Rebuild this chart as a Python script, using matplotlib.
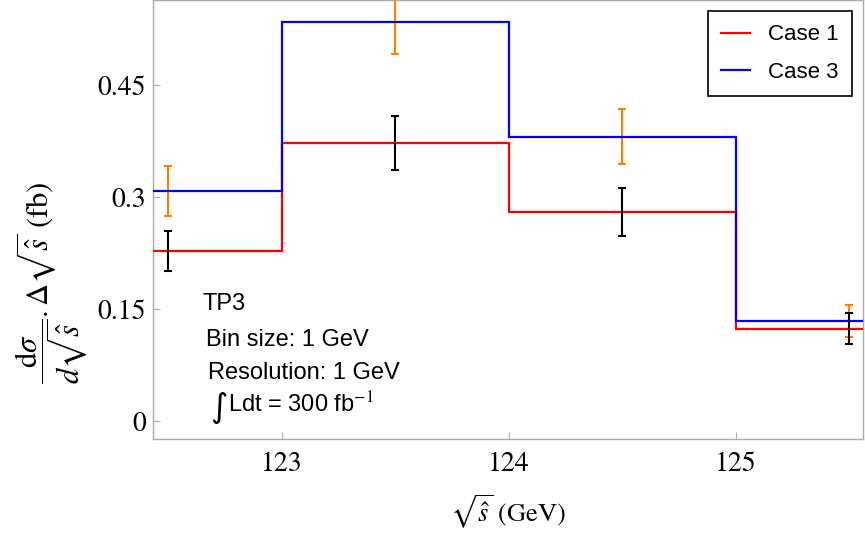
import matplotlib
matplotlib.use("Agg")
import matplotlib.pyplot as plt
import numpy as np

plt.rcParams['mathtext.fontset'] = 'stix'

bin_edges = [122, 123, 124, 125, 126]
bin_centers = [122.5, 123.5, 124.5, 125.5]
case1 = [0.228, 0.372, 0.280, 0.124]
case3 = [0.308, 0.534, 0.381, 0.134]
case1_err = [0.027, 0.036, 0.032, 0.021]
case3_err = [0.033, 0.042, 0.037, 0.022]

xticks = [123, 124, 125]
yticks = [0, 0.15, 0.3, 0.45]
ytick_labels = ["0", "0.15", "0.3", "0.45"]

fig = plt.figure(figsize=(8.65, 5.34), dpi=100)
ax = fig.add_axes([153/865, 95/534, 710/865, 439/534])

ax.stairs(case1, bin_edges, baseline=None, color='#ff0000', lw=1.6, label='Case 1', zorder=3)
ax.stairs(case3, bin_edges, baseline=None, color='#0000ff', lw=1.6, label='Case 3', zorder=3)
ax.errorbar(bin_centers, case3, yerr=case3_err, fmt='none', ecolor='#ff8000',
            elinewidth=1.5, capsize=3, capthick=1.5, zorder=2)
ax.errorbar(bin_centers, case1, yerr=case1_err, fmt='none', ecolor='black',
            elinewidth=1.5, capsize=3, capthick=1.5, zorder=4)

ax.set_xlim(122.433, 125.56)
ax.set_ylim(-0.024, 0.564)
ax.set_xticks(xticks)
ax.set_xticklabels([str(t) for t in xticks])
ax.set_yticks(yticks)
ax.set_yticklabels(ytick_labels)
for sp in ax.spines.values():
    sp.set_color('#aaaaaa')
    sp.set_linewidth(1.0)
ax.tick_params(direction='in', length=5, color='#aaaaaa', labelsize=20, pad=5)
ax.tick_params(axis='x', pad=9)
for lab in ax.get_xticklabels() + ax.get_yticklabels():
    lab.set_family('STIXGeneral')

ax.set_xlabel(r'$\sqrt{\hat{s}}$ (GeV)', family='STIXGeneral', fontsize=19, labelpad=12)
ax.set_ylabel(r'$\dfrac{\mathrm{d}\sigma}{d\sqrt{\hat{s}}}.\Delta\sqrt{\hat{s}}$ (fb)',
              family='STIXGeneral', fontsize=22, va='center')
ax.yaxis.set_label_coords(-0.143, 0.355)

tfont = dict(family='Liberation Sans', fontsize=17, va='center', ha='left', transform=ax.transAxes)
ax.text(0.070, 0.3075, 'TP3', **tfont)
ax.text(0.0746, 0.2255, 'Bin size: 1 GeV', **tfont)
ax.text(0.0775, 0.150, 'Resolution: 1 GeV', **tfont)
ax.text(0.081, 0.072, '\u222b', family='DejaVu Sans', fontsize=24, va='center', ha='left',
        transform=ax.transAxes)
ax.text(0.106, 0.0775, r'Ldt = 300 fb$^{-1}$', **tfont)

leg = ax.legend(loc='upper right', fancybox=False, edgecolor='black',
                framealpha=1, handlelength=1.3, borderpad=0.6, labelspacing=0.75,
                prop={'family': 'Liberation Sans', 'size': 16})
leg.get_frame().set_linewidth(1.2)

fig.savefig('out.png', dpi=100)
